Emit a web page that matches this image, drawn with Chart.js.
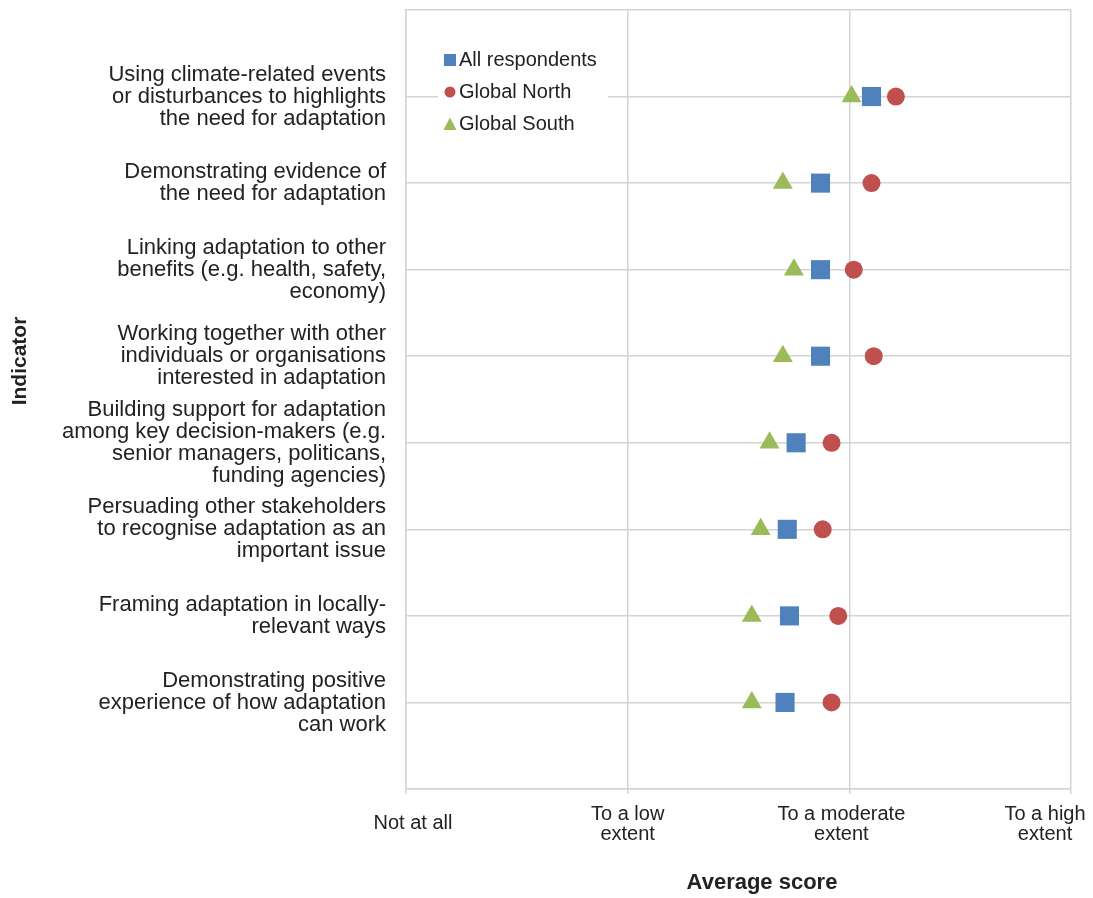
<!DOCTYPE html>
<html>
<head>
<meta charset="utf-8">
<script src="https://cdn.jsdelivr.net/npm/chart.js@4.4.1/dist/chart.umd.min.js"></script>
<style>
  html, body { margin: 0; padding: 0; background: #fff; }
  #wrap { width: 1093px; height: 898px; }
</style>
</head>
<body>
<div id="wrap"><canvas id="chart"></canvas></div>
<script>
// ===== DATA =====
const categories = [
    'Using climate-related events\nor disturbances to highlights\nthe need for adaptation',
    'Demonstrating evidence of\nthe need for adaptation',
    'Linking adaptation to other\nbenefits (e.g. health, safety,\neconomy)',
    'Working together with other\nindividuals or organisations\ninterested in adaptation',
    'Building support for adaptation\namong key decision-makers (e.g.\nsenior managers, politicans,\nfunding agencies)',
    'Persuading other stakeholders\nto recognise adaptation as an\nimportant issue',
    'Framing adaptation in locally-\nrelevant ways',
    'Demonstrating positive\nexperience of how adaptation\ncan work'
];
const allRespondents = [2.10, 1.87, 1.87, 1.87, 1.76, 1.72, 1.73, 1.71];
const globalNorth    = [2.21, 2.10, 2.02, 2.11, 1.92, 1.88, 1.95, 1.92];
const globalSouth    = [2.01, 1.70, 1.75, 1.70, 1.64, 1.60, 1.56, 1.56];
const scoreLabels = ['Not at all', 'To a low\nextent', 'To a moderate\nextent', 'To a high\nextent'];

const FONT = "'Liberation Sans', Arial, Helvetica, sans-serif";
const TEXT = '#222222';
const GRID = '#d4d4d4';

function toPoints(values) {
    return values.map((v, i) => ({ x: v, y: i + 1 }));
}

// legend drawn inside the plot, with a white box behind it
const innerLegend = {
    id: 'innerLegend',
    beforeDatasetsDraw(chart) {
        const ctx = chart.ctx;
        const a = chart.chartArea;
        ctx.save();
        ctx.fillStyle = '#ffffff';
        ctx.fillRect(a.left + 32, a.top + 30, 170, 100);
        ctx.restore();
    },
    afterDatasetsDraw(chart) {
        const ctx = chart.ctx;
        const a = chart.chartArea;
        ctx.save();
        ctx.font = '20px ' + FONT;
        ctx.textBaseline = 'middle';
        ctx.textAlign = 'left';
        chart.data.datasets.forEach((ds, i) => {
            const cx = a.left + 44;
            const cy = a.top + 50 + i * 32;
            ctx.fillStyle = ds.backgroundColor;
            ctx.beginPath();
            if (ds.pointStyle === 'rect') {
                ctx.rect(cx - 6, cy - 6, 12, 12);
            } else if (ds.pointStyle === 'circle') {
                ctx.arc(cx, cy, 5.5, 0, Math.PI * 2);
            } else {
                ctx.moveTo(cx, cy - 6.5);
                ctx.lineTo(cx + 6.5, cy + 6);
                ctx.lineTo(cx - 6.5, cy + 6);
                ctx.closePath();
            }
            ctx.fill();
            ctx.fillStyle = TEXT;
            ctx.fillText(ds.label, cx + 9, cy);
        });
        ctx.restore();
    }
};

// x tick labels and axis titles
const axisText = {
    id: 'axisText',
    afterDraw(chart) {
        const ctx = chart.ctx;
        const x = chart.scales.x;
        const shifts = [7, 0, -8, -26];
        ctx.save();
        ctx.fillStyle = TEXT;
        ctx.font = '20px ' + FONT;
        ctx.textAlign = 'center';
        ctx.textBaseline = 'middle';
        scoreLabels.forEach((lbl, i) => {
            const px = x.getPixelForValue(i) + shifts[i];
            const lines = lbl.split('\n');
            if (lines.length === 1) {
                ctx.fillText(lines[0], px, 823);
            } else {
                ctx.fillText(lines[0], px, 814);
                ctx.fillText(lines[1], px, 834);
            }
        });
        ctx.font = 'bold 22px ' + FONT;
        ctx.fillText('Average score', 762, 883);
        ctx.font = 'bold 21px ' + FONT;
        ctx.translate(20, 361);
        ctx.rotate(-Math.PI / 2);
        ctx.fillText('Indicator', 0, 0);
        ctx.restore();
    }
};

const ctx = document.getElementById('chart').getContext('2d');
new Chart(ctx, {
    type: 'scatter',
    data: {
        datasets: [
            {
                label: 'All respondents',
                data: toPoints(allRespondents),
                pointStyle: 'rect',
                pointRadius: 13.5,
                backgroundColor: '#4f81bd',
                borderColor: '#4f81bd',
                borderWidth: 0
            },
            {
                label: 'Global North',
                data: toPoints(globalNorth),
                pointStyle: 'circle',
                pointRadius: 9,
                backgroundColor: '#c0504d',
                borderColor: '#c0504d',
                borderWidth: 0
            },
            {
                label: 'Global South',
                data: toPoints(globalSouth),
                pointStyle: 'triangle',
                pointRadius: 11.5,
                backgroundColor: '#9bbb59',
                borderColor: '#9bbb59',
                borderWidth: 0
            }
        ]
    },
    options: {
        responsive: true,
        maintainAspectRatio: false,
        animation: false,
        layout: { autoPadding: false, padding: { top: 10, right: 22, bottom: 0, left: 0 } },
        plugins: {
            legend: { display: false },
            tooltip: { enabled: false }
        },
        scales: {
            x: {
                type: 'linear',
                min: 0,
                max: 3,
                ticks: { display: false, stepSize: 1 },
                grid: { color: GRID, lineWidth: 1.5, drawTicks: true, tickLength: 5 },
                border: { color: GRID, width: 1.5 },
                afterFit(scale) { scale.height = 109; }
            },
            y: {
                type: 'linear',
                reverse: true,
                min: 0,
                max: 9,
                ticks: {
                    stepSize: 1,
                    autoSkip: false,
                    padding: 20,
                    color: TEXT,
                    font: { family: FONT, size: 22, lineHeight: 1.0 },
                    callback: (v) => (v >= 1 && v <= 8) ? categories[v - 1].split('\n') : ''
                },
                grid: { color: GRID, lineWidth: 1.5, drawTicks: false },
                border: { color: GRID, width: 1.5 },
                afterFit(scale) {
                    scale.width = 406;
                    scale.paddingTop = 0;
                    scale.paddingBottom = 0;
                }
            }
        }
    },
    plugins: [innerLegend, axisText]
});
</script>
</body>
</html>
